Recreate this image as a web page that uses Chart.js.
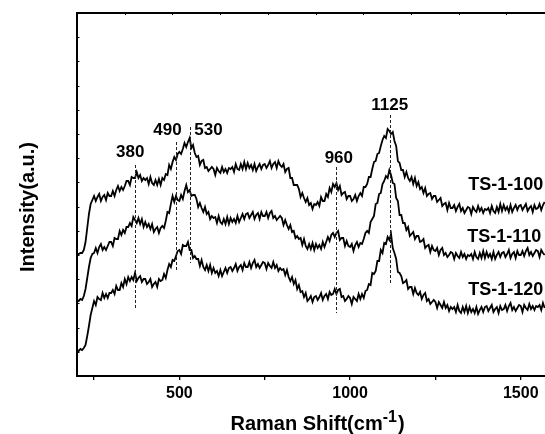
<!DOCTYPE html>
<html>
<head>
<meta charset="utf-8">
<script src="https://cdn.jsdelivr.net/npm/chart.js@4"></script>
<style>
  html, body { margin: 0; padding: 0; background: #fff; }
  #wrap { width: 545px; height: 434px; }
</style>
</head>
<body>
<div id="wrap"><canvas id="myChart" width="545" height="434"></canvas></div>
<script>
// Raman shift grid, cm-1 (one reading every 5 cm-1, 200..1570)
const shift = Array.from({ length: 275 }, (_, i) => 200 + i * 5);

// intensities (a.u.), noise included
const ts100 = [
  122, 122, 123, 123, 126, 134, 148, 162, 172, 176,
  180, 175, 179, 182, 175, 179, 181, 176, 183, 180,
  180, 185, 180, 186, 190, 185, 189, 186, 190, 195,
  195, 191, 199, 198, 198, 204, 198, 201, 195, 198,
  196, 198, 192, 199, 193, 191, 196, 191, 197, 191,
  198, 196, 202, 201, 211, 207, 214, 219, 216, 222,
  224, 222, 227, 233, 229, 234, 238, 228, 231, 223,
  219, 220, 211, 215, 216, 208, 209, 205, 207, 209,
  207, 201, 208, 205, 203, 209, 204, 207, 203, 208,
  207, 209, 204, 212, 207, 206, 212, 207, 214, 207,
  213, 208, 211, 206, 212, 205, 209, 212, 207, 211,
  212, 208, 211, 215, 208, 212, 214, 208, 215, 211,
  209, 212, 204, 207, 208, 198, 198, 191, 191, 191,
  187, 179, 183, 178, 174, 178, 171, 173, 167, 172,
  171, 174, 170, 179, 175, 175, 182, 179, 188, 184,
  192, 189, 193, 186, 190, 181, 183, 184, 177, 180,
  180, 175, 177, 181, 175, 180, 183, 180, 189, 189,
  192, 199, 199, 207, 214, 215, 222, 223, 230, 236,
  240, 238, 247, 245, 242, 244, 235, 230, 215, 213,
  206, 206, 199, 204, 198, 195, 199, 192, 198, 190,
  194, 187, 189, 183, 188, 180, 182, 183, 177, 180,
  180, 174, 176, 178, 170, 172, 173, 166, 173, 168,
  168, 171, 165, 169, 172, 165, 168, 163, 166, 169,
  168, 162, 169, 166, 164, 170, 165, 168, 163, 167,
  166, 168, 163, 170, 165, 163, 169, 164, 172, 165,
  171, 166, 169, 164, 171, 164, 168, 171, 166, 170,
  171, 166, 169, 172, 165, 168, 170, 164, 171, 167,
  168, 172, 166, 171, 174
];
const ts110 = [
  76, 75, 77, 76, 80, 87, 98, 109, 118, 122,
  123, 128, 123, 129, 132, 126, 129, 126, 130, 134,
  134, 130, 138, 137, 137, 145, 141, 146, 143, 149,
  149, 153, 150, 159, 156, 153, 158, 152, 157, 149,
  154, 149, 152, 147, 152, 144, 147, 149, 143, 148,
  150, 148, 155, 164, 163, 172, 180, 174, 180, 176,
  175, 181, 177, 185, 191, 184, 186, 180, 181, 181,
  177, 169, 173, 168, 164, 169, 162, 164, 157, 160,
  158, 159, 153, 160, 154, 152, 157, 152, 159, 152,
  158, 154, 157, 153, 160, 154, 158, 162, 157, 162,
  163, 158, 161, 164, 157, 161, 163, 157, 164, 160,
  160, 164, 158, 163, 165, 158, 160, 156, 158, 160,
  158, 151, 156, 151, 147, 151, 144, 145, 138, 140,
  137, 138, 131, 137, 130, 127, 132, 127, 133, 126,
  132, 128, 131, 127, 134, 129, 134, 139, 135, 141,
  143, 139, 143, 145, 136, 138, 138, 130, 135, 130,
  129, 132, 125, 131, 134, 129, 133, 132, 137, 143,
  145, 143, 154, 157, 160, 172, 173, 182, 183, 192,
  195, 200, 198, 206, 201, 193, 192, 178, 175, 161,
  161, 153, 153, 146, 149, 140, 142, 144, 137, 140,
  140, 134, 135, 137, 128, 130, 131, 124, 130, 126,
  125, 128, 121, 126, 128, 121, 123, 119, 121, 124,
  123, 117, 123, 120, 118, 124, 119, 122, 117, 121,
  120, 122, 117, 124, 119, 117, 123, 118, 125, 118,
  124, 119, 122, 117, 124, 117, 121, 124, 119, 123,
  124, 119, 122, 126, 118, 122, 124, 118, 125, 121,
  121, 125, 120, 125, 128, 121, 124, 120, 123, 126,
  125, 119, 126, 123, 121
];
const ts120 = [
  26, 25, 27, 26, 28, 31, 40, 50, 61, 68,
  75, 71, 79, 77, 76, 83, 78, 82, 78, 83,
  83, 86, 82, 90, 86, 86, 93, 89, 97, 92,
  99, 95, 99, 96, 103, 95, 98, 100, 94, 97,
  97, 92, 94, 97, 89, 92, 94, 89, 97, 95,
  96, 102, 98, 106, 112, 109, 116, 115, 120, 125,
  126, 122, 131, 130, 130, 134, 126, 126, 118, 120,
  117, 117, 110, 116, 109, 106, 111, 105, 111, 103,
  108, 103, 105, 100, 106, 100, 104, 108, 103, 108,
  109, 105, 108, 112, 105, 109, 111, 106, 113, 109,
  109, 114, 108, 113, 116, 109, 112, 108, 111, 114,
  113, 107, 113, 110, 108, 114, 108, 111, 105, 108,
  106, 107, 101, 106, 99, 95, 99, 92, 96, 87,
  91, 84, 85, 79, 83, 75, 77, 80, 74, 79,
  80, 76, 79, 83, 76, 80, 82, 77, 84, 81,
  82, 87, 82, 86, 87, 79, 80, 75, 77, 80,
  78, 72, 79, 77, 75, 82, 77, 82, 78, 85,
  86, 92, 91, 103, 102, 105, 115, 115, 126, 123,
  133, 132, 139, 136, 142, 128, 123, 117, 104, 103,
  100, 93, 94, 96, 87, 89, 89, 82, 88, 83,
  81, 84, 77, 81, 83, 75, 77, 72, 74, 76,
  74, 68, 74, 71, 68, 74, 68, 71, 65, 69,
  67, 69, 64, 71, 65, 63, 69, 64, 70, 63,
  69, 64, 67, 63, 69, 62, 66, 69, 64, 69,
  70, 65, 68, 71, 64, 67, 69, 63, 70, 66,
  67, 71, 65, 70, 73, 66, 69, 65, 68, 71,
  70, 64, 71, 68, 66, 72, 67, 70, 66, 70,
  69, 71, 66, 73, 68
];

const sampleNames = ['TS-1-100', 'TS-1-110', 'TS-1-120'];
const xTickValues = [250, 500, 750, 1000, 1250, 1500];
const xTickLabels = ['', '500', '', '1000', '', '1500'];

// peak marks: label, where the dashed line sits, its span and where the number goes
const peakNames = ['380', '490', '530', '960', '1125'];
const peaks = [
  { at: 371, from: 68, to: 211, tx: 356, ty: 224 },
  { at: 490, from: 104, to: 234, tx: 465, ty: 246 },
  { at: 532, from: 113, to: 249, tx: 585, ty: 246 },
  { at: 960, from: 63, to: 209, tx: 967, ty: 218 },
  { at: 1118, from: 91, to: 261, tx: 1116, ty: 271 }
];
// sample labels sit at the right end of each trace
const nameSpots = [{ x: 1566, y: 191 }, { x: 1560, y: 139 }, { x: 1566, y: 86 }];

const FONT = "'Liberation Sans', Arial, sans-serif";

const decor = {
  id: 'decor',
  afterDatasetsDraw(chart) {
    const { ctx, scales: { x, y } } = chart;
    ctx.save();
    // dashed peak lines and numbers
    ctx.strokeStyle = '#222';
    ctx.lineWidth = 1;
    ctx.setLineDash([3, 2]);
    peaks.forEach(p => {
      const px = Math.round(x.getPixelForValue(p.at)) + 0.5;
      ctx.beginPath();
      ctx.moveTo(px, y.getPixelForValue(p.to));
      ctx.lineTo(px, y.getPixelForValue(p.from));
      ctx.stroke();
    });
    ctx.setLineDash([]);
    ctx.fillStyle = '#000';
    ctx.font = 'bold 17px ' + FONT;
    ctx.textAlign = 'center';
    ctx.textBaseline = 'middle';
    peaks.forEach((p, i) => {
      ctx.fillText(peakNames[i], x.getPixelForValue(p.tx), y.getPixelForValue(p.ty));
    });
    // sample names
    ctx.font = 'bold 18px ' + FONT;
    ctx.textAlign = 'right';
    sampleNames.forEach((n, i) => {
      ctx.fillText(n, x.getPixelForValue(nameSpots[i].x), y.getPixelForValue(nameSpots[i].y));
    });
    ctx.restore();
  },
  afterDraw(chart) {
    const { ctx, chartArea: a, scales: { y } } = chart;
    ctx.save();
    ctx.strokeStyle = '#000';
    // top frame line with its small ticks
    ctx.lineWidth = 2;
    ctx.beginPath();
    ctx.moveTo(a.left - 1, a.top);
    ctx.lineTo(chart.width, a.top);
    ctx.stroke();
    ctx.lineWidth = 1;
    for (let px = a.left + 47.7; px < chart.width; px += 47.7) {
      ctx.beginPath();
      ctx.moveTo(Math.round(px) + 0.5, a.top);
      ctx.lineTo(Math.round(px) + 0.5, a.top + 2);
      ctx.stroke();
    }
    // inward ticks on the left axis
    y.ticks.forEach(t => {
      const py = Math.round(y.getPixelForValue(t.value)) + 0.5;
      if (py < a.top + 3 || py > a.bottom - 3) return;
      ctx.beginPath();
      ctx.moveTo(a.left, py);
      ctx.lineTo(a.left + 2.5, py);
      ctx.stroke();
    });
    // axis titles
    ctx.fillStyle = '#000';
    ctx.font = 'bold 20px ' + FONT;
    ctx.textBaseline = 'alphabetic';
    const main = 'Raman Shift(cm';
    const sup = '-1';
    const end = ')';
    const w1 = ctx.measureText(main).width;
    const w3 = ctx.measureText(end).width;
    ctx.font = 'bold 16px ' + FONT;
    const w2 = ctx.measureText(sup).width;
    const sx = 317 - (w1 + w2 + w3) / 2;
    ctx.font = 'bold 20px ' + FONT;
    ctx.textAlign = 'left';
    ctx.fillText(main, sx, 430);
    ctx.font = 'bold 16px ' + FONT;
    ctx.fillText(sup, sx + w1, 422);
    ctx.font = 'bold 20px ' + FONT;
    ctx.fillText(end, sx + w1 + w2 + 1, 430);

    ctx.translate(28, 207);
    ctx.rotate(-Math.PI / 2);
    ctx.textAlign = 'center';
    ctx.textBaseline = 'middle';
    ctx.fillText('Intensity(a.u.)', 0, 0);
    ctx.restore();
  }
};

const line = (data) => ({
  data: shift.map((s, i) => ({ x: s, y: data[i] })),
  borderColor: '#000',
  borderWidth: 1.8,
  pointRadius: 0,
  tension: 0,
  fill: false
});

new Chart(document.getElementById('myChart'), {
  type: 'line',
  data: {
    datasets: [line(ts100), line(ts110), line(ts120)]
  },
  options: {
    responsive: false,
    animation: false,
    events: [],
    layout: { padding: { top: 13, left: 0, right: 0, bottom: 0 } },
    plugins: { legend: { display: false }, tooltip: { enabled: false } },
    scales: {
      x: {
        type: 'linear',
        min: 200,
        max: 1571,
        afterFit(scale) { scale.height = 58; },
        afterBuildTicks(scale) { scale.ticks = xTickValues.map(v => ({ value: v })); },
        border: { display: true, color: '#000', width: 2 },
        grid: { drawOnChartArea: false, drawTicks: true, tickLength: 4, color: '#000', lineWidth: 1.3 },
        ticks: {
          color: '#000',
          padding: 4,
          maxRotation: 0,
          autoSkip: false,
          font: { family: FONT, size: 16, weight: 'bold' },
          callback: (v) => xTickLabels[xTickValues.indexOf(v)] ?? ''
        }
      },
      y: {
        min: 0,
        max: 363,
        afterFit(scale) { scale.width = 77; },
        border: { display: true, color: '#000', width: 2 },
        grid: { display: true, drawOnChartArea: false, drawTicks: false },
        ticks: { display: false, stepSize: 24.2 }
      }
    }
  },
  plugins: [decor]
});
</script>
</body>
</html>
